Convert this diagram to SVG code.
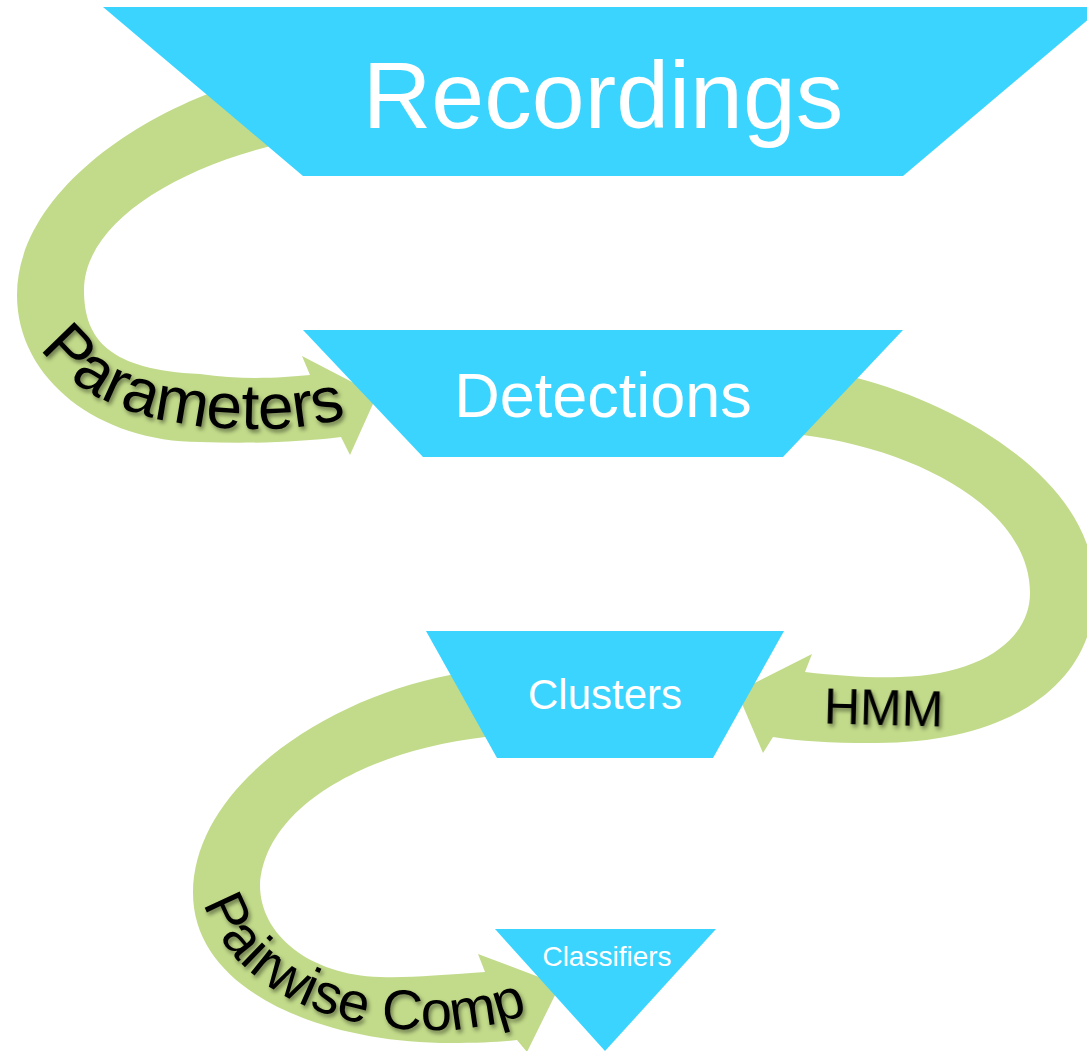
<svg xmlns="http://www.w3.org/2000/svg" xmlns:xlink="http://www.w3.org/1999/xlink" width="1087" height="1051" viewBox="0 0 1087 1051">
  <style>
    .stage { fill: #3AD4FF; }
    .flow { fill: #C2DB8A; }
    .stage-label { fill: #FFFFFF; font-family: "Liberation Sans", Arial, sans-serif; text-anchor: middle; }
    .flow-label { fill: #000000; font-family: "Liberation Sans", Arial, sans-serif; filter: url(#softShadow); }
  </style>
  <defs>
    <filter id="softShadow" x="-20%" y="-20%" width="140%" height="140%">
      <feDropShadow dx="2" dy="3" stdDeviation="2" flood-color="#000" flood-opacity="0.45"/>
    </filter>
    <!-- baselines for the labels that bend with the arrows -->
    <path id="paramsBaseline" d="M 40,348 C 80,402 150,427 250,429 C 295,430 330,424 372,410"/>
    <path id="pairwiseBaseline" d="M 204,903 C 230,987 330,1031 432,1030 C 475,1030 510,1022 550,1005"/>
  </defs>

  <!-- curved flow arrows between stages -->
  <g id="connectors">
    <path id="arrow-parameters" class="flow" d="M 205,95 C 105,135 17,210 17,295 C 17,380 100,442 200,442 C 250,444 300,442 341,437 L 350,455 L 377,395 L 302,356 L 310,375 C 280,378 240,380 200,374 C 110,370 84,340 84,290 C 84,230 160,175 267,147 L 300,135 L 240,85 Z"/>
    <path id="arrow-hmm" class="flow" d="M 857,378 C 960,405 1095,480 1095,590 C 1095,690 1000,745 870,743 C 830,743 800,741 773,737 L 763,753 L 737,692 L 812,654 L 805,672 C 840,676 870,678 900,677 C 980,675 1030,640 1030,593 C 1030,510 920,450 803,435 L 780,432 L 830,370 Z"/>
    <path id="arrow-pairwise" class="flow" d="M 450,675 C 320,700 193,790 193,893 C 193,990 320,1043 450,1043 C 480,1043 500,1042 517,1040 L 527,1052 L 560,985 L 478,954 L 485,972 C 440,975 410,978 380,977 C 310,975 260,935 260,885 C 265,805 370,750 485,737 L 520,730 L 470,670 Z"/>
    <text class="flow-label" font-size="64"><textPath xlink:href="#paramsBaseline" href="#paramsBaseline">Parameters</textPath></text>
    <text class="flow-label" font-size="50" x="824" y="725" transform="rotate(1.5 884 707)">HMM</text>
    <text class="flow-label" font-size="56"><textPath xlink:href="#pairwiseBaseline" href="#pairwiseBaseline">Pairwise Comp</textPath></text>
  </g>

  <g id="recordings">
    <polygon class="stage" points="103,7 1103,7 903,176 303,176"/>
    <text class="stage-label" x="603" y="128" font-size="95">Recordings</text>
  </g>

  <g id="detections">
    <polygon class="stage" points="303,330 903,330 783,457 423,457"/>
    <text class="stage-label" x="603" y="417" font-size="63">Detections</text>
  </g>

  <g id="clusters">
    <polygon class="stage" points="426,631 784,631 713,758 497,758"/>
    <text class="stage-label" x="605" y="709" font-size="42">Clusters</text>
  </g>

  <g id="classifiers">
    <polygon class="stage" points="495,929 716,929 605,1051"/>
    <text class="stage-label" x="607" y="966" font-size="28">Classifiers</text>
  </g>
</svg>
